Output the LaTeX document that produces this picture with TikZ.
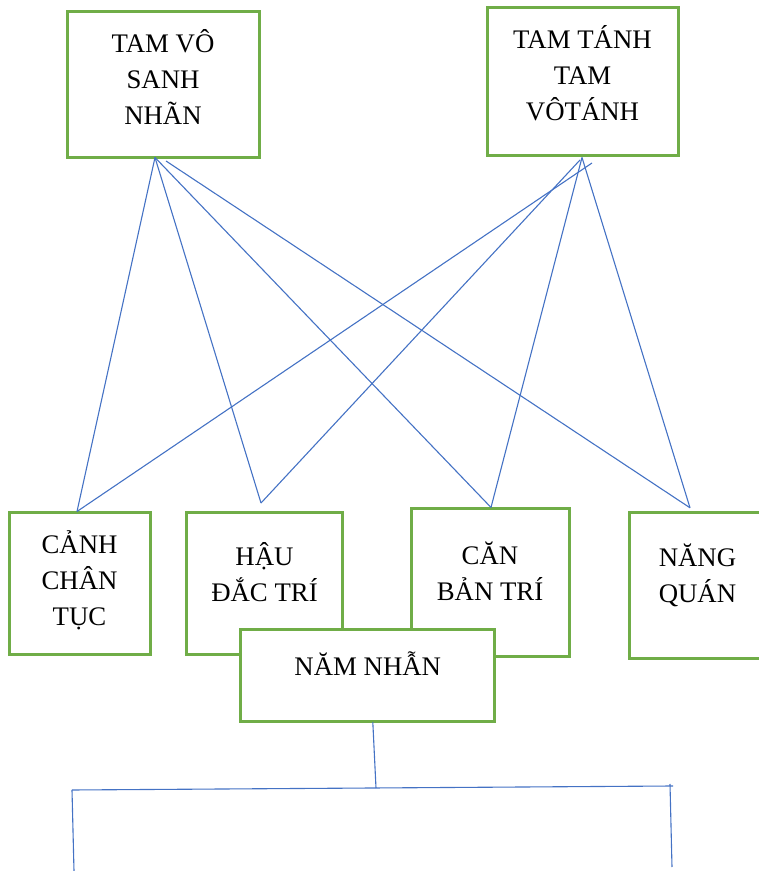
\documentclass[tikz,border=0pt]{standalone}
\usepackage{fontspec}
\setmainfont{Liberation Serif}
\usepackage{tikz}
\definecolor{frame}{HTML}{70AD47}
\definecolor{wire}{HTML}{4472C4}

\begin{document}
\begin{tikzpicture}[
  x=1pt,y=1pt,
  box/.style={draw=frame,line width=3pt,fill=white,inner sep=0pt},
  lbl/.style={align=center,inner sep=0pt,anchor=north,
    font=\fontsize{26.8}{36}\selectfont},
  ln/.style={draw=wire,line width=1.1pt}
]
\useasboundingbox (0,0) rectangle (759,871);

% upper boxes
\node[box,minimum width=192,minimum height=146] (vosanh) at (163,786) {};
\node[lbl] (vosanh-t) at (163,843.4) {\strut TAM VÔ\\SANH\\NHÃN};
\node[box,minimum width=191,minimum height=148] (tanh) at (582.5,789) {};
\node[lbl] (tanh-t) at (582.5,847.4) {\strut TAM TÁNH\\TAM\\VÔTÁNH};

% lower boxes
\node[box,minimum width=141.5,minimum height=142] (canh) at (80,287) {};
\node[lbl] (canh-t) at (79.5,343.2) {\strut CẢNH\\CHÂN\\TỤC};
\node[box,minimum width=156,minimum height=142] (hau) at (264.7,287) {};
\node[lbl] (hau-t) at (264.5,331.2) {\strut HẬU\\ĐẮC TRÍ};
\node[box,minimum width=158,minimum height=147.7] (can) at (490,288.2) {};
\node[lbl] (can-t) at (490,332.2) {\strut CĂN\\BẢN TRÍ};
\node[box,minimum width=137,minimum height=146] (nang) at (697.5,285.7) {};
\node[lbl] (nang-t) at (697.5,330.2) {\strut NĂNG\\QUÁN};
\node[box,minimum width=254,minimum height=92] (nam) at (367.8,195) {};
\node[lbl] (nam-t) at (367.8,221.2) {\strut NĂM NHẪN};

% links from the upper boxes
\draw[ln] ([shift={(-8,2)}]vosanh.south) -- ([xshift=-3]canh.north);
\draw[ln] ([shift={(-8,2)}]vosanh.south) -- ([shift={(-3.7,8.5)}]hau.north);
\draw[ln] ([shift={(-8,2)}]vosanh.south) -- ([xshift=1]can.north);
\draw[ln] ([shift={(3,-1.5)}]vosanh.south) -- ([shift={(-7.5,3)}]nang.north);
\draw[ln] ([shift={(9.5,-5.5)}]tanh.south) -- ([xshift=-3]canh.north);
\draw[ln] ([shift={(-2.5,-2.5)}]tanh.south) -- ([shift={(-3.7,8.5)}]hau.north);
\draw[ln] ([xshift=-0.5]tanh.south) -- ([xshift=1]can.north);
\draw[ln] ([xshift=-0.5]tanh.south) -- ([shift={(-7.5,3)}]nang.north);

% branch below
\coordinate (hub) at (376,83);
\coordinate (leftend) at (72,81);
\coordinate (rightend) at (673,85);
\coordinate (righttop) at (670,87);
\coordinate (leftfoot) at (74,0);
\coordinate (rightfoot) at (672,4);
\draw[ln] ([shift={(5,1.5)}]nam.south) -- (hub);
\draw[ln] (leftend) -- (rightend);
\draw[ln] (leftend) -- (leftfoot);
\draw[ln] (righttop) -- (rightfoot);
\end{tikzpicture}
\end{document}
